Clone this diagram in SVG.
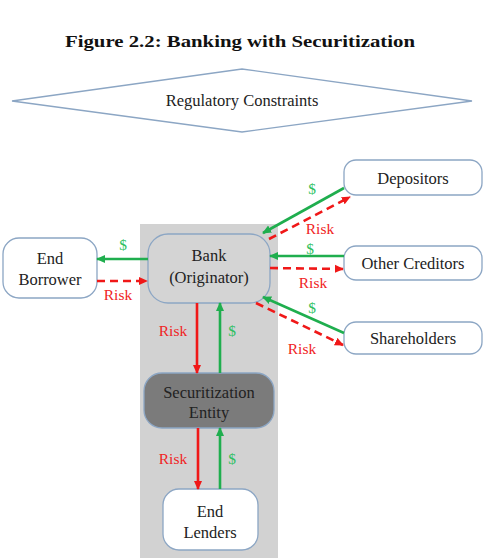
<svg xmlns="http://www.w3.org/2000/svg" width="485" height="560" viewBox="0 0 485 560">
<defs>
<style>
.t{font-family:"Liberation Serif","Times New Roman",serif;font-size:16.5px;fill:#222;text-anchor:middle}
.title{font-family:"Liberation Serif","Times New Roman",serif;font-size:17px;font-weight:bold;fill:#111;text-anchor:middle}
.node{fill:#fff;stroke:#8ca6c4;stroke-width:1.3}
.g{stroke:#1fae4e;stroke-width:2.6;fill:none}
.r{stroke:#f01818;stroke-width:2.6;fill:none}
.d{stroke-dasharray:8,5}
.lg{font-family:"Liberation Serif","Times New Roman",serif;font-size:15.5px;fill:#2fbf5e;text-anchor:middle}
.lr{font-family:"Liberation Serif","Times New Roman",serif;font-size:15.5px;fill:#f02424;text-anchor:middle}
</style>
<marker id="ag" viewBox="0 0 10 10" refX="9" refY="5" markerWidth="9" markerHeight="9" markerUnits="userSpaceOnUse" orient="auto"><path d="M0,0.5 L10,5 L0,9.5 z" fill="#1fae4e"/></marker>
<marker id="ar" viewBox="0 0 10 10" refX="9" refY="5" markerWidth="9" markerHeight="9" markerUnits="userSpaceOnUse" orient="auto"><path d="M0,0.5 L10,5 L0,9.5 z" fill="#f01818"/></marker>
</defs>
<rect width="485" height="560" fill="#fff"/>
<text class="title" x="240" y="47" textLength="350" lengthAdjust="spacingAndGlyphs">Figure 2.2: Banking with Securitization</text>
<g id="regulatory">
<polygon points="12,101 242,69 472,101 242,132" fill="#fff" stroke="#8ca6c4" stroke-width="1.3"/>
<text class="t" x="242" y="106">Regulatory Constraints</text>
</g>
<rect id="background" x="140" y="224" width="138" height="334" fill="#d2d2d2"/>
<g id="bank">
<rect x="148" y="234" width="122" height="69" rx="20" fill="#d4d4d4" stroke="#8ca6c4" stroke-width="1.3"/>
<text class="t" x="209" y="261">Bank</text>
<text class="t" x="209" y="283">(Originator)</text>
</g>
<g id="endborrower">
<rect class="node" x="3" y="238" width="94" height="60" rx="16"/>
<text class="t" x="50" y="264">End</text>
<text class="t" x="50" y="285">Borrower</text>
</g>
<g id="depositors">
<rect class="node" x="344" y="160" width="138" height="35" rx="12"/>
<text class="t" x="413" y="184">Depositors</text>
</g>
<g id="othercreditors">
<rect class="node" x="344" y="246" width="138" height="34" rx="12"/>
<text class="t" x="413" y="269">Other Creditors</text>
</g>
<g id="shareholders">
<rect class="node" x="344" y="322" width="138" height="32" rx="12"/>
<text class="t" x="413" y="344">Shareholders</text>
</g>
<g id="securitization">
<rect x="144" y="373" width="130" height="55" rx="18" fill="#7b7b7b" stroke="#8ca6c4" stroke-width="1.3"/>
<text class="t" x="209" y="398">Securitization</text>
<text class="t" x="209" y="418">Entity</text>
</g>
<g id="endlenders">
<rect class="node" x="163" y="489" width="95" height="61" rx="16"/>
<text class="t" x="210" y="517">End</text>
<text class="t" x="210" y="538">Lenders</text>
</g>
<g id="connectors">
<line class="g" x1="148" y1="259" x2="97" y2="259" marker-end="url(#ag)"/>
<line class="r d" x1="97" y1="281" x2="147" y2="281" marker-end="url(#ar)"/>
<line class="g" x1="344" y1="188" x2="263" y2="233" marker-end="url(#ag)"/>
<line class="r d" x1="269" y1="239" x2="350" y2="197" marker-end="url(#ar)"/>
<line class="g" x1="344" y1="256" x2="270" y2="256" marker-end="url(#ag)"/>
<line class="r d" x1="270" y1="268" x2="343" y2="269" marker-end="url(#ar)"/>
<line class="g" x1="344" y1="333" x2="263" y2="297" marker-end="url(#ag)"/>
<line class="r d" x1="256" y1="303" x2="343" y2="345" marker-end="url(#ar)"/>
<line class="r" x1="197" y1="303" x2="197" y2="373" marker-end="url(#ar)"/>
<line class="g" x1="220" y1="373" x2="220" y2="303" marker-end="url(#ag)"/>
<line class="r" x1="198" y1="428" x2="198" y2="489" marker-end="url(#ar)"/>
<line class="g" x1="220" y1="489" x2="220" y2="428" marker-end="url(#ag)"/>
</g>
<g id="labels">
<text class="lg" x="123" y="250">$</text>
<text class="lr" x="118" y="300">Risk</text>
<text class="lg" x="312" y="194">$</text>
<text class="lr" x="320" y="234">Risk</text>
<text class="lg" x="310" y="254">$</text>
<text class="lr" x="313" y="288">Risk</text>
<text class="lg" x="312" y="313">$</text>
<text class="lr" x="302" y="354">Risk</text>
<text class="lr" x="173" y="336">Risk</text>
<text class="lg" x="232" y="336">$</text>
<text class="lr" x="173" y="464">Risk</text>
<text class="lg" x="232" y="464">$</text>
</g>
</svg>
